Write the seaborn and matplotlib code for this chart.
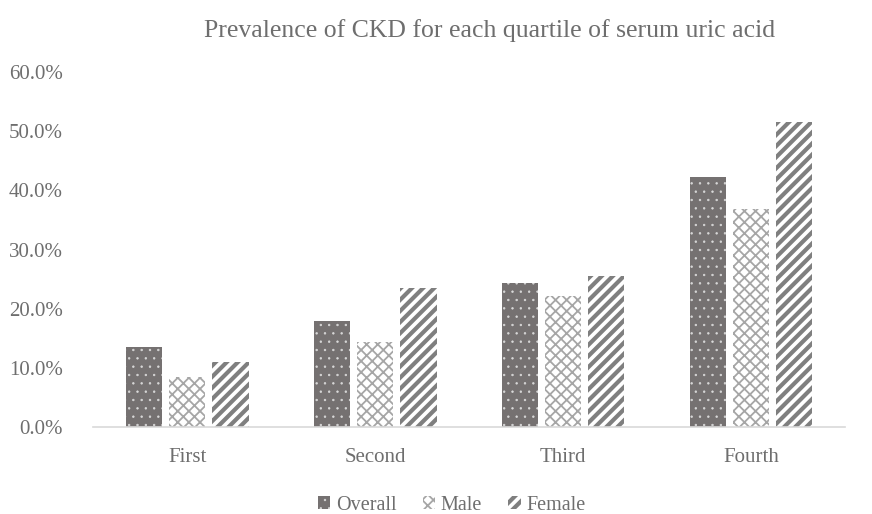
import pandas as pd
import numpy as np
import matplotlib
import matplotlib.pyplot as plt
import matplotlib.patches as mpatches
import seaborn as sns

# values (percent)
quartiles = ['First', 'Second', 'Third', 'Fourth']
groups = ['Overall', 'Male', 'Female']
overall = [13.5, 17.9, 24.3, 42.2]
male = [8.4, 14.4, 22.1, 36.8]
female = [11.0, 23.5, 25.5, 51.5]

df = pd.DataFrame({
    'quartile': quartiles * 3,
    'group': ['Overall'] * 4 + ['Male'] * 4 + ['Female'] * 4,
    'prev': overall + male + female,
})

sns.set_style('white')
plt.rcParams['font.family'] = ['Liberation Serif', 'DejaVu Serif']
plt.rcParams['hatch.linewidth'] = 1.0

fig = plt.figure(figsize=(8.72, 5.14), dpi=100)
ax = fig.add_axes([0.107, 0.169, 0.862, 0.691])

txt = '#6e6e6e'
ax = sns.barplot(data=df, x='quartile', y='prev', hue='group', order=quartiles,
                 hue_order=groups, width=0.69, gap=0.16, ax=ax, errorbar=None,
                 palette=['#757171', 'white', 'white'], linewidth=0, legend=False)

# patterns: dots on dark grey, grey lattice, thick grey stripes
styles = [('..', '#d9d9d9', '#757171', 0.5),
          ('xxx', '#a6a6a6', 'white', 1.3),
          ('///', '#7f7f7f', 'white', 3.0)]


def style_patch(p, st):
    h, hc, fc, lw = st
    p.set_hatch(h)
    p.set_edgecolor(hc)
    p.set_facecolor(fc)
    p.set_linewidth(0)
    if hasattr(p, 'set_hatch_linewidth'):
        p.set_hatch_linewidth(lw)
    else:
        p._hatch_linewidth = lw


for cont, st in zip(ax.containers, styles):
    for bar in cont:
        style_patch(bar, st)

ax.set_ylim(0, 60)
ax.set_yticks(np.arange(0, 61, 10))
ax.set_yticklabels([f'{v:.1f}%' for v in np.arange(0, 61, 10)])
ax.set_xlabel('')
ax.set_ylabel('')
for s in ['top', 'right', 'left']:
    ax.spines[s].set_visible(False)
ax.spines['bottom'].set_color('#d9d9d9')
ax.spines['bottom'].set_linewidth(1.2)
ax.tick_params(axis='both', length=0, labelsize=15, colors=txt)
ax.tick_params(axis='x', pad=15)
ax.tick_params(axis='y', pad=22)

fig.text(0.561, 0.94, 'Prevalence of CKD for each quartile of serum uric acid',
         ha='center', va='center', fontsize=18.5, color=txt)

handles = []
for g, st in zip(groups, styles):
    p = mpatches.Patch(label=g)
    style_patch(p, st)
    handles.append(p)
leg = ax.legend(handles=handles, loc='center', bbox_to_anchor=(0.477, -0.22), ncol=3,
                frameon=False, fontsize=14.5, labelcolor=txt, handlelength=0.6,
                handleheight=0.6, handletextpad=0.3, columnspacing=1.3)
for lh, st in zip(leg.get_patches(), styles):
    style_patch(lh, st)

fig.savefig('out.png', dpi=100)
